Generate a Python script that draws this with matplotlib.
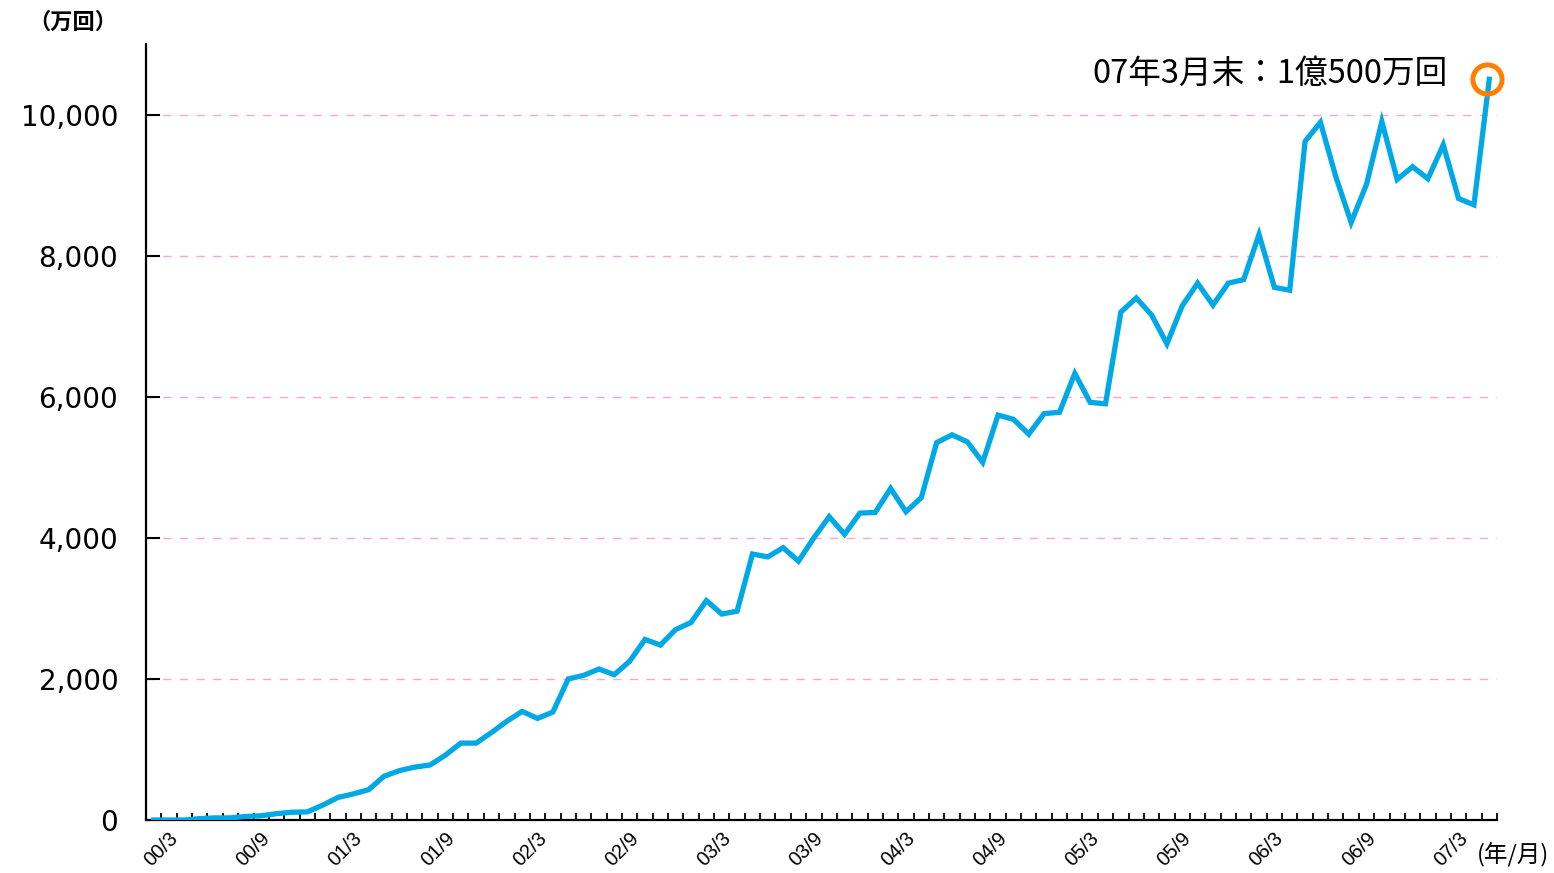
import numpy as np
import matplotlib
matplotlib.use("Agg")
import matplotlib.pyplot as plt

# monthly values (万回)
plays = [
    0, 0, 0, 20, 30, 30, 50, 60, 90, 110, 115, 210,
    320, 370, 430, 620, 700, 750, 780, 920, 1090, 1090, 1240, 1400,
    1540, 1440, 1530, 2000, 2050, 2140, 2060, 2250, 2560, 2480, 2700, 2800,
    3110, 2920, 2960, 3770, 3730, 3860, 3670, 4000, 4300, 4050, 4350, 4360,
    4700, 4370, 4570, 5350, 5460, 5360, 5070, 5740, 5680, 5470, 5760, 5780,
    6330, 5920, 5900, 7200, 7400, 7160, 6750, 7290, 7610, 7300, 7610, 7660,
    8300, 7550, 7510, 9620, 9890, 9120, 8470, 9010, 9900, 9080, 9260, 9090,
    9570, 8810, 8720, 10500,
]
tick_labels = ["00/3", "00/9", "01/3", "01/9", "02/3", "02/9", "03/3", "03/9",
               "04/3", "04/9", "05/3", "05/9", "06/3", "06/9", "07/3"]
y_ticks = [0, 2000, 4000, 6000, 8000, 10000]

BLUE = "#00a9e6"
ORANGE = "#ff8000"
PINK = "#f7a8cc"
JP = ["Noto Sans CJK JP", "DejaVu Sans"]

fig = plt.figure(figsize=(15.54, 8.73), dpi=100)
ax = fig.add_axes([0.094, 0.0607, 0.8693, 0.8889])

x = np.arange(len(plays))
ax.plot(x, plays, color=BLUE, lw=3.8, solid_joinstyle="miter", zorder=3)
ax.plot(x[-1] - 0.15, plays[-1], "o", ms=21, mfc="none", mec=ORANGE, mew=3.6,
        zorder=4, clip_on=False)

ax.set_xlim(-0.5, len(plays) - 0.5)
ax.set_ylim(0, 11000)

# grid
for v in y_ticks[1:]:
    ax.axhline(v, color=PINK, lw=1, dashes=(6, 6), zorder=1)

# ticks: one per month boundary, labels every 6 months
bounds = np.arange(len(plays)) + 0.5
labels = [""] * len(bounds)
for k, lab in enumerate(tick_labels):
    labels[6 * k] = lab
ax.set_xticks(bounds)
ax.set_xticklabels(labels, rotation=45, ha="center", fontsize=14.5,
                   family="Liberation Sans")
ax.tick_params(axis="x", direction="in", length=5, width=1.3, pad=6)
ax.set_yticks(y_ticks)
ax.set_yticklabels([f"{v:,}" for v in y_ticks], fontsize=20)
ax.tick_params(axis="y", direction="in", length=10, width=1.5, pad=20)

for s in ["top", "right"]:
    ax.spines[s].set_visible(False)
for s in ["left", "bottom"]:
    ax.spines[s].set_linewidth(1.6)

fig.text(28 / 1554, 1 - 22 / 873, "（万回）", fontsize=16, family=JP,
         ha="left", va="center", weight="bold")
fig.text(1549 / 1554, 1 - 855 / 873, "(年/月)", fontsize=17, family=JP,
         ha="right", va="center")
fig.text(1448 / 1554, 1 - 74 / 873, "07年3月末：1億500万回", fontsize=23.5,
         family=JP, ha="right", va="center")

fig.savefig("out.png", dpi=100)
